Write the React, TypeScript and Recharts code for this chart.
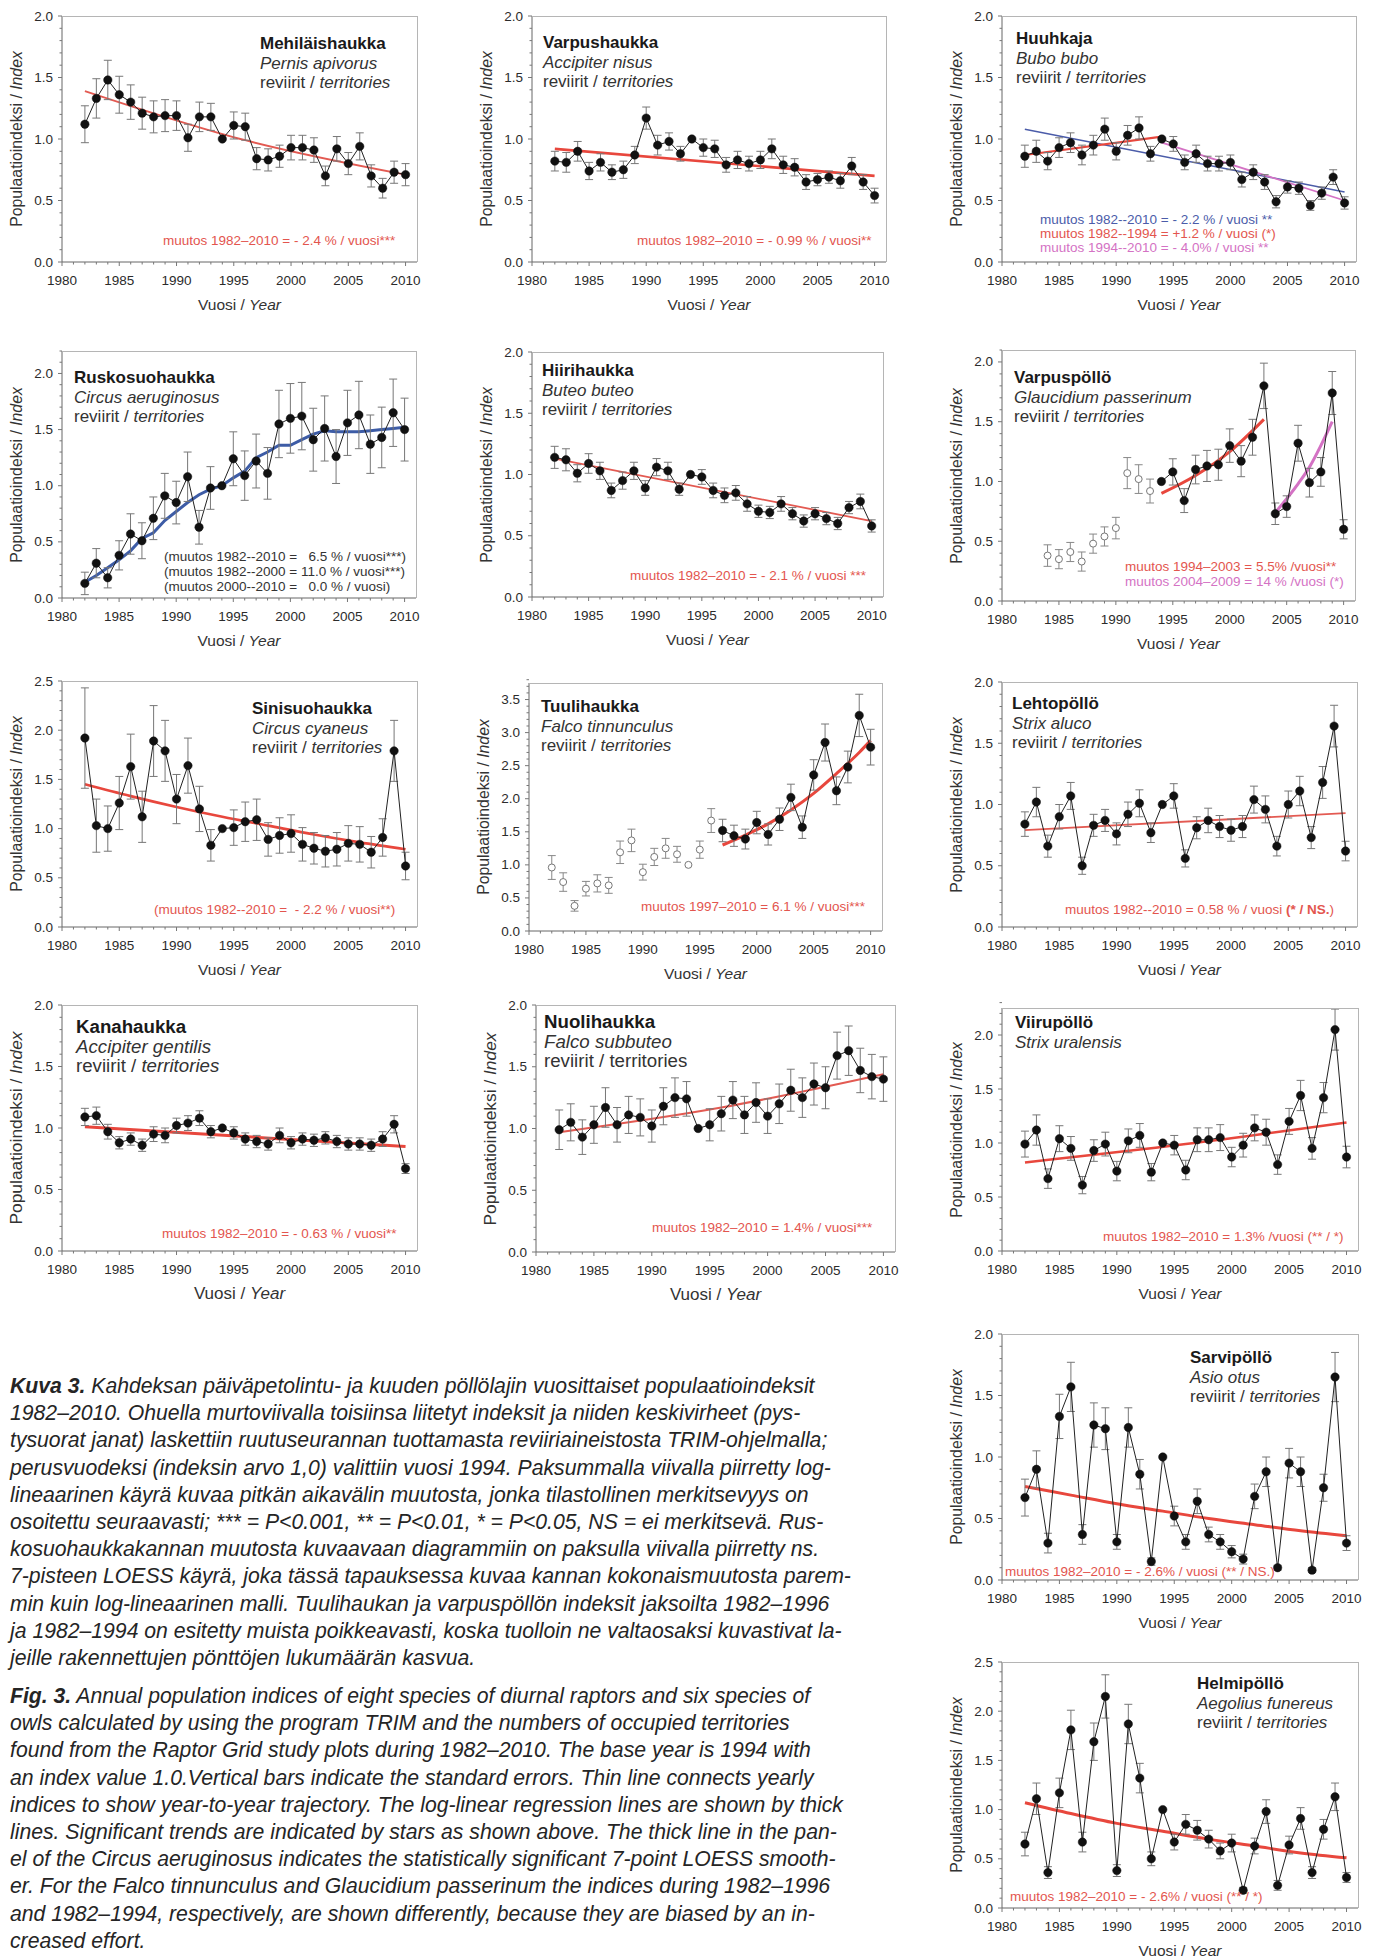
import React from 'react';
import { ComposedChart, Line, XAxis, YAxis, ErrorBar } from 'recharts';

const FONT = '"Liberation Sans", Arial, Helvetica, sans-serif';
const NARROW = '"Liberation Sans Narrow", "Arial Narrow", "Liberation Sans", sans-serif';

const RED = '#e8473d';
const RED_THIN = '#e35a52';
const RED_TEXT = '#e3554e';
const BLUE = '#4b5ca9';
const PINK = '#d472c4';
const LOESS = '#3d5ca6';

const YEARS = [1982, 1983, 1984, 1985, 1986, 1987, 1988, 1989, 1990, 1991, 1992, 1993, 1994, 1995, 1996, 1997, 1998, 1999, 2000, 2001, 2002, 2003, 2004, 2005, 2006, 2007, 2008, 2009, 2010];
const X_LABELS = [1980, 1985, 1990, 1995, 2000, 2005, 2010];
const Y_LABELS = [0, 0.5, 1, 1.5, 2, 2.5, 3, 3.5];

type Pt = [number, number];

// Mehiläishaukka
const mehiIndex = [1.12, 1.33, 1.48, 1.36, 1.30, 1.21, 1.18, 1.19, 1.19, 1.01, 1.18, 1.18, 1.00, 1.11, 1.10, 0.84, 0.83, 0.86, 0.93, 0.93, 0.91, 0.70, 0.92, 0.80, 0.94, 0.70, 0.60, 0.73, 0.71];
const mehiSE = [0.15, 0.16, 0.16, 0.15, 0.14, 0.13, 0.13, 0.13, 0.12, 0.11, 0.12, 0.11, 0, 0.11, 0.11, 0.09, 0.09, 0.09, 0.10, 0.10, 0.10, 0.08, 0.10, 0.09, 0.11, 0.09, 0.08, 0.09, 0.09];
const mehiTrend: Pt[] = [[1982, 1.39], [1996, 0.99], [2010, 0.71]];

// Varpushaukka
const varpIndex = [0.82, 0.81, 0.90, 0.74, 0.81, 0.73, 0.75, 0.87, 1.17, 0.95, 0.98, 0.88, 1.00, 0.93, 0.92, 0.79, 0.83, 0.80, 0.83, 0.92, 0.79, 0.77, 0.65, 0.67, 0.69, 0.66, 0.78, 0.65, 0.54];
const varpSE = [0.08, 0.08, 0.08, 0.07, 0.07, 0.06, 0.07, 0.07, 0.09, 0.08, 0.07, 0.06, 0, 0.07, 0.07, 0.06, 0.07, 0.06, 0.07, 0.08, 0.07, 0.07, 0.06, 0.05, 0.05, 0.06, 0.07, 0.06, 0.06];
const varpTrend: Pt[] = [[1982, 0.92], [2010, 0.70]];

// Huuhkaja
const huuhIndex = [0.86, 0.90, 0.82, 0.93, 0.97, 0.87, 0.95, 1.08, 0.90, 1.03, 1.09, 0.88, 1.00, 0.96, 0.81, 0.88, 0.80, 0.80, 0.81, 0.67, 0.73, 0.65, 0.49, 0.61, 0.60, 0.46, 0.56, 0.69, 0.48];
const huuhSE = [0.09, 0.09, 0.07, 0.08, 0.08, 0.08, 0.08, 0.09, 0.07, 0.08, 0.09, 0.06, 0, 0.06, 0.06, 0.07, 0.06, 0.06, 0.06, 0.06, 0.06, 0.06, 0.05, 0.05, 0.05, 0.04, 0.05, 0.06, 0.05];
const huuhAll: Pt[] = [[1982, 1.08], [2010, 0.57]];
const huuhEarly: Pt[] = [[1982, 0.87], [1994, 1.02]];
const huuhLate: Pt[] = [[1994, 0.97], [2010, 0.50]];

// Ruskosuohaukka
const ruskIndex = [0.13, 0.31, 0.18, 0.38, 0.57, 0.51, 0.71, 0.91, 0.85, 1.08, 0.63, 0.98, 1.00, 1.24, 1.09, 1.22, 1.11, 1.55, 1.60, 1.62, 1.41, 1.51, 1.26, 1.56, 1.63, 1.37, 1.43, 1.65, 1.50];
const ruskSE = [0.10, 0.13, 0.09, 0.13, 0.18, 0.16, 0.19, 0.20, 0.19, 0.22, 0.15, 0.19, 0, 0.24, 0.22, 0.24, 0.23, 0.30, 0.31, 0.30, 0.28, 0.29, 0.24, 0.29, 0.30, 0.26, 0.27, 0.30, 0.28];
const ruskLoess: Pt[] = [[1982, 0.14], [1983, 0.20], [1984, 0.27], [1985, 0.34], [1986, 0.42], [1987, 0.53], [1988, 0.58], [1989, 0.69], [1990, 0.77], [1991, 0.85], [1992, 0.92], [1993, 0.97], [1994, 1.00], [1995, 1.07], [1996, 1.13], [1997, 1.25], [1998, 1.30], [1999, 1.36], [2000, 1.36], [2001, 1.41], [2002, 1.46], [2003, 1.49], [2004, 1.48], [2005, 1.48], [2006, 1.48], [2007, 1.49], [2008, 1.50], [2009, 1.51], [2010, 1.52]];

// Hiirihaukka
const hiirIndex = [1.14, 1.12, 1.01, 1.09, 1.03, 0.87, 0.95, 1.03, 0.89, 1.06, 1.03, 0.88, 1.00, 0.98, 0.87, 0.83, 0.85, 0.76, 0.70, 0.69, 0.76, 0.68, 0.62, 0.68, 0.64, 0.60, 0.73, 0.78, 0.58];
const hiirSE = [0.09, 0.09, 0.07, 0.08, 0.07, 0.06, 0.07, 0.07, 0.06, 0.07, 0.07, 0.05, 0, 0.06, 0.06, 0.06, 0.06, 0.06, 0.05, 0.05, 0.06, 0.05, 0.05, 0.05, 0.05, 0.05, 0.05, 0.06, 0.05];
const hiirTrend: Pt[] = [[1982, 1.13], [2010, 0.62]];

// Varpuspöllö (1984-1993 drawn as open circles)
const vpolIndex = [null, null, 0.38, 0.35, 0.41, 0.33, 0.48, 0.54, 0.61, 1.07, 1.02, 0.92, 1.00, 1.08, 0.84, 1.10, 1.13, 1.14, 1.30, 1.17, 1.37, 1.80, 0.73, 0.79, 1.32, 0.99, 1.08, 1.74, 0.60];
const vpolSE = [null, null, 0.09, 0.08, 0.08, 0.08, 0.08, 0.08, 0.09, 0.13, 0.12, 0.10, 0, 0.11, 0.10, 0.12, 0.13, 0.13, 0.14, 0.13, 0.15, 0.19, 0.09, 0.09, 0.15, 0.12, 0.12, 0.18, 0.08];
const vpolEarly: Pt[] = [[1994, 0.90], [1997, 1.05], [2000, 1.25], [2003, 1.52]];
const vpolLate: Pt[] = [[2004, 0.74], [2006, 0.98], [2007, 1.12], [2008, 1.30], [2009, 1.50]];

// Sinisuohaukka
const siniIndex = [1.92, 1.03, 1.00, 1.26, 1.63, 1.12, 1.89, 1.79, 1.30, 1.64, 1.20, 0.83, 1.00, 1.01, 1.07, 1.09, 0.89, 0.93, 0.95, 0.84, 0.80, 0.77, 0.79, 0.85, 0.84, 0.76, 0.91, 1.79, 0.62];
const siniSE = [0.51, 0.27, 0.23, 0.27, 0.33, 0.26, 0.36, 0.31, 0.25, 0.28, 0.23, 0.16, 0, 0.18, 0.20, 0.21, 0.17, 0.18, 0.19, 0.17, 0.16, 0.16, 0.17, 0.18, 0.18, 0.16, 0.19, 0.31, 0.14];
const siniTrend: Pt[] = [[1982, 1.45], [1986, 1.33], [1990, 1.22], [1994, 1.12], [1998, 1.03], [2002, 0.94], [2006, 0.86], [2010, 0.79]];

// Tuulihaukka (1982-1996 drawn as open circles)
const tuulIndex = [0.96, 0.74, 0.38, 0.64, 0.72, 0.69, 1.19, 1.37, 0.89, 1.12, 1.25, 1.16, 1.00, 1.23, 1.67, 1.52, 1.44, 1.39, 1.64, 1.46, 1.69, 2.02, 1.57, 2.36, 2.85, 2.12, 2.48, 3.26, 2.78];
const tuulSE = [0.18, 0.14, 0.08, 0.11, 0.13, 0.12, 0.17, 0.17, 0.12, 0.13, 0.15, 0.12, 0, 0.13, 0.18, 0.17, 0.16, 0.15, 0.17, 0.16, 0.17, 0.20, 0.17, 0.23, 0.28, 0.21, 0.24, 0.32, 0.27];
const tuulTrend: Pt[] = [[1997, 1.30], [1999, 1.45], [2001, 1.62], [2003, 1.83], [2005, 2.08], [2007, 2.38], [2009, 2.70], [2010, 2.88]];

// Lehtopöllö
const lehtIndex = [0.84, 1.02, 0.66, 0.90, 1.07, 0.50, 0.83, 0.87, 0.76, 0.92, 1.01, 0.77, 1.00, 1.07, 0.56, 0.81, 0.87, 0.82, 0.79, 0.82, 1.04, 0.96, 0.66, 1.00, 1.11, 0.73, 1.18, 1.64, 0.62];
const lehtSE = [0.10, 0.12, 0.09, 0.10, 0.11, 0.07, 0.09, 0.09, 0.09, 0.10, 0.11, 0.08, 0, 0.10, 0.07, 0.09, 0.10, 0.09, 0.09, 0.09, 0.11, 0.11, 0.08, 0.11, 0.12, 0.09, 0.13, 0.17, 0.08];
const lehtTrend: Pt[] = [[1982, 0.79], [2010, 0.93]];

// Kanahaukka
const kanaIndex = [1.09, 1.10, 0.97, 0.88, 0.91, 0.86, 0.95, 0.94, 1.02, 1.04, 1.08, 0.97, 1.00, 0.96, 0.91, 0.89, 0.87, 0.94, 0.88, 0.91, 0.90, 0.92, 0.89, 0.87, 0.87, 0.86, 0.91, 1.03, 0.67];
const kanaSE = [0.07, 0.07, 0.06, 0.05, 0.05, 0.05, 0.06, 0.06, 0.06, 0.06, 0.06, 0.05, 0, 0.05, 0.05, 0.05, 0.05, 0.06, 0.05, 0.05, 0.05, 0.05, 0.05, 0.05, 0.05, 0.05, 0.06, 0.07, 0.04];
const kanaTrend: Pt[] = [[1982, 1.01], [2010, 0.85]];

// Nuolihaukka
const nuolIndex = [0.99, 1.05, 0.93, 1.03, 1.17, 1.03, 1.11, 1.09, 1.02, 1.18, 1.25, 1.24, 1.00, 1.03, 1.12, 1.23, 1.11, 1.21, 1.10, 1.20, 1.31, 1.25, 1.36, 1.33, 1.59, 1.63, 1.47, 1.42, 1.40];
const nuolSE = [0.16, 0.15, 0.14, 0.15, 0.16, 0.14, 0.15, 0.15, 0.13, 0.15, 0.16, 0.14, 0, 0.13, 0.14, 0.15, 0.15, 0.16, 0.14, 0.16, 0.17, 0.16, 0.17, 0.17, 0.19, 0.20, 0.18, 0.18, 0.18];
const nuolTrend: Pt[] = [[1982, 0.97], [1996, 1.17], [2010, 1.44]];

// Viirupöllö
const viirIndex = [0.99, 1.12, 0.67, 1.04, 0.95, 0.61, 0.93, 0.99, 0.74, 1.02, 1.07, 0.73, 1.00, 0.98, 0.75, 1.03, 1.03, 1.05, 0.87, 0.98, 1.14, 1.10, 0.80, 1.20, 1.44, 0.95, 1.42, 2.05, 0.87];
const viirSE = [0.12, 0.14, 0.09, 0.12, 0.11, 0.08, 0.10, 0.11, 0.09, 0.11, 0.11, 0.08, 0, 0.09, 0.09, 0.11, 0.11, 0.12, 0.09, 0.11, 0.12, 0.12, 0.09, 0.12, 0.14, 0.10, 0.14, 0.19, 0.10];
const viirTrend: Pt[] = [[1982, 0.82], [1996, 0.99], [2010, 1.19]];

// Sarvipöllö
const sarvIndex = [0.67, 0.90, 0.30, 1.33, 1.57, 0.37, 1.26, 1.23, 0.31, 1.24, 0.86, 0.15, 1.00, 0.52, 0.31, 0.64, 0.37, 0.31, 0.23, 0.17, 0.68, 0.88, 0.10, 0.95, 0.88, 0.08, 0.75, 1.65, 0.30];
const sarvSE = [0.15, 0.15, 0.08, 0.18, 0.20, 0.08, 0.18, 0.17, 0.06, 0.16, 0.12, 0.03, 0, 0.08, 0.06, 0.10, 0.06, 0.06, 0.05, 0.04, 0.10, 0.12, 0.02, 0.12, 0.12, 0.02, 0.11, 0.20, 0.06];
const sarvTrend: Pt[] = [[1982, 0.76], [1986, 0.69], [1990, 0.62], [1994, 0.56], [1998, 0.50], [2002, 0.45], [2006, 0.40], [2010, 0.36]];

// Helmipöllö
const helmIndex = [0.65, 1.11, 0.36, 1.17, 1.81, 0.67, 1.69, 2.15, 0.38, 1.87, 1.32, 0.50, 1.00, 0.67, 0.85, 0.79, 0.70, 0.58, 0.66, 0.18, 0.63, 0.98, 0.23, 0.64, 0.91, 0.36, 0.80, 1.13, 0.31];
const helmSE = [0.12, 0.16, 0.06, 0.15, 0.20, 0.10, 0.19, 0.22, 0.06, 0.20, 0.15, 0.07, 0, 0.08, 0.10, 0.10, 0.09, 0.08, 0.09, 0.03, 0.08, 0.12, 0.05, 0.09, 0.11, 0.06, 0.10, 0.14, 0.05];
const helmTrend: Pt[] = [[1982, 1.07], [1986, 0.96], [1990, 0.86], [1994, 0.78], [1998, 0.70], [2002, 0.63], [2006, 0.56], [2010, 0.51]];

interface Trend { pts: Pt[]; color: string; width: number; smooth?: boolean }
interface Note { text: React.ReactNode; x: number; y: number; color: string }
interface Panel {
  left: number; top: number; w: number; h: number; yMax: number;
  index: (number | null)[]; se: (number | null)[]; openUntil?: number;
  trends: Trend[];
  name: string; latin: string; terr: 'italic' | 'plain' | 'none'; tx: number; ty: number;
  notes: Note[];
  narrow?: boolean;
}

const panels: Panel[] = [
  {
    left: 62, top: 16, w: 355, h: 246, yMax: 2, index: mehiIndex, se: mehiSE,
    trends: [{ pts: mehiTrend, color: RED_THIN, width: 1.8, smooth: true }],
    name: 'Mehiläishaukka', latin: 'Pernis apivorus', terr: 'italic', tx: 260, ty: 43,
    notes: [{ text: 'muutos 1982–2010 = - 2.4 % / vuosi***', x: 163, y: 241, color: RED_TEXT }],
  },
  {
    left: 532, top: 16, w: 354, h: 246, yMax: 2, index: varpIndex, se: varpSE,
    trends: [{ pts: varpTrend, color: RED, width: 2.6 }],
    name: 'Varpushaukka', latin: 'Accipiter nisus', terr: 'italic', tx: 543, ty: 42,
    notes: [{ text: 'muutos 1982–2010 = - 0.99 % / vuosi**', x: 637, y: 241, color: RED_TEXT }],
  },
  {
    left: 1002, top: 16, w: 354, h: 246, yMax: 2, index: huuhIndex, se: huuhSE,
    trends: [
      { pts: huuhAll, color: BLUE, width: 1.5 },
      { pts: huuhEarly, color: RED, width: 2.2 },
      { pts: huuhLate, color: PINK, width: 1.8 },
    ],
    name: 'Huuhkaja', latin: 'Bubo bubo', terr: 'italic', tx: 1016, ty: 38,
    notes: [
      { text: 'muutos 1982--2010 = - 2.2 % / vuosi **', x: 1040, y: 220, color: BLUE },
      { text: 'muutos 1982--1994 = +1.2 % / vuosi (*)', x: 1040, y: 234, color: RED_TEXT },
      { text: 'muutos 1994--2010 = - 4.0% / vuosi **', x: 1040, y: 248, color: PINK },
    ],
  },
  {
    left: 62, top: 351, w: 354, h: 247, yMax: 2.2, index: ruskIndex, se: ruskSE,
    trends: [{ pts: ruskLoess, color: LOESS, width: 3 }],
    name: 'Ruskosuohaukka', latin: 'Circus aeruginosus', terr: 'italic', tx: 74, ty: 377,
    notes: [
      { text: '(muutos 1982--2010 =   6.5 % / vuosi***)', x: 164, y: 557, color: '#333' },
      { text: '(muutos 1982--2000 = 11.0 % / vuosi***)', x: 164, y: 572, color: '#333' },
      { text: '(muutos 2000--2010 =   0.0 % / vuosi)', x: 164, y: 587, color: '#333' },
    ],
  },
  {
    left: 532, top: 352, w: 351, h: 245, yMax: 2, index: hiirIndex, se: hiirSE,
    trends: [{ pts: hiirTrend, color: RED_THIN, width: 1.8 }],
    name: 'Hiirihaukka', latin: 'Buteo buteo', terr: 'italic', tx: 542, ty: 370,
    notes: [{ text: 'muutos 1982–2010 = - 2.1 % / vuosi ***', x: 630, y: 576, color: RED_TEXT }],
  },
  {
    left: 1002, top: 350, w: 353, h: 251, yMax: 2.1, index: vpolIndex, se: vpolSE, openUntil: 1993,
    trends: [
      { pts: vpolEarly, color: RED, width: 3, smooth: true },
      { pts: vpolLate, color: PINK, width: 3, smooth: true },
    ],
    name: 'Varpuspöllö', latin: 'Glaucidium passerinum', terr: 'italic', tx: 1014, ty: 377,
    notes: [
      { text: 'muutos 1994–2003 = 5.5% /vuosi**', x: 1125, y: 567, color: RED_TEXT },
      { text: 'muutos 2004–2009 = 14 % /vuosi (*)', x: 1125, y: 582, color: PINK },
    ],
  },
  {
    left: 62, top: 681, w: 355, h: 246, yMax: 2.5, index: siniIndex, se: siniSE,
    trends: [{ pts: siniTrend, color: RED, width: 2.6, smooth: true }],
    name: 'Sinisuohaukka', latin: 'Circus cyaneus', terr: 'italic', tx: 252, ty: 708,
    notes: [{ text: '(muutos 1982--2010 =  - 2.2 % / vuosi**)', x: 154, y: 910, color: RED_TEXT }],
  },
  {
    left: 529, top: 683, w: 353, h: 248, yMax: 3.75, index: tuulIndex, se: tuulSE, openUntil: 1996,
    trends: [{ pts: tuulTrend, color: RED, width: 3, smooth: true }],
    name: 'Tuulihaukka', latin: 'Falco tinnunculus', terr: 'italic', tx: 541, ty: 706,
    notes: [{ text: 'muutos 1997–2010 = 6.1 % / vuosi***', x: 641, y: 907, color: RED_TEXT }],
  },
  {
    left: 1002, top: 682, w: 355, h: 245, yMax: 2, index: lehtIndex, se: lehtSE,
    trends: [{ pts: lehtTrend, color: RED_THIN, width: 1.8 }],
    name: 'Lehtopöllö', latin: 'Strix aluco', terr: 'italic', tx: 1012, ty: 703,
    notes: [{ text: <>muutos 1982--2010 = 0.58 % / vuosi <b>(* / NS.</b>)</>, x: 1065, y: 910, color: RED_TEXT }],
  },
  {
    left: 62, top: 1005, w: 355, h: 246, yMax: 2, index: kanaIndex, se: kanaSE, narrow: true,
    trends: [{ pts: kanaTrend, color: RED, width: 3 }],
    name: 'Kanahaukka', latin: 'Accipiter gentilis', terr: 'italic', tx: 76, ty: 1027,
    notes: [{ text: 'muutos 1982–2010 = - 0.63 % / vuosi**', x: 162, y: 1234, color: RED_TEXT }],
  },
  {
    left: 536, top: 1005, w: 359, h: 247, yMax: 2, index: nuolIndex, se: nuolSE, narrow: true,
    trends: [{ pts: nuolTrend, color: RED_THIN, width: 2, smooth: true }],
    name: 'Nuolihaukka', latin: 'Falco subbuteo', terr: 'plain', tx: 544, ty: 1022,
    notes: [{ text: 'muutos 1982–2010 = 1.4% / vuosi***', x: 652, y: 1228, color: RED_TEXT }],
  },
  {
    left: 1002, top: 1008, w: 356, h: 243, yMax: 2.25, index: viirIndex, se: viirSE,
    trends: [{ pts: viirTrend, color: RED, width: 2.6, smooth: true }],
    name: 'Viirupöllö', latin: 'Strix uralensis', terr: 'none', tx: 1015, ty: 1022,
    notes: [{ text: 'muutos 1982–2010 = 1.3% /vuosi (** / *)', x: 1103, y: 1237, color: RED_TEXT }],
  },
  {
    left: 1002, top: 1334, w: 356, h: 246, yMax: 2, index: sarvIndex, se: sarvSE,
    trends: [{ pts: sarvTrend, color: RED, width: 3, smooth: true }],
    name: 'Sarvipöllö', latin: 'Asio otus', terr: 'italic', tx: 1190, ty: 1357,
    notes: [{ text: 'muutos 1982–2010 = - 2.6% / vuosi (** / NS.)', x: 1005, y: 1572, color: RED_TEXT }],
  },
  {
    left: 1002, top: 1662, w: 356, h: 246, yMax: 2.5, index: helmIndex, se: helmSE,
    trends: [{ pts: helmTrend, color: RED, width: 3, smooth: true }],
    name: 'Helmipöllö', latin: 'Aegolius funereus', terr: 'italic', tx: 1197, ty: 1683,
    notes: [{ text: 'muutos 1982–2010 = - 2.6% / vuosi (** / *)', x: 1010, y: 1897, color: RED_TEXT }],
  },
];

const captionFi: React.ReactNode[] = [
  <><b>Kuva 3.</b> Kahdeksan päiväpetolintu- ja kuuden pöllölajin vuosittaiset populaatioindeksit</>,
  '1982–2010. Ohuella murtoviivalla toisiinsa liitetyt indeksit ja niiden keskivirheet (pys-',
  'tysuorat janat) laskettiin ruutuseurannan tuottamasta reviiriaineistosta TRIM-ohjelmalla;',
  'perusvuodeksi (indeksin arvo 1,0) valittiin vuosi 1994. Paksummalla viivalla piirretty log-',
  'lineaarinen käyrä kuvaa pitkän aikavälin muutosta, jonka tilastollinen merkitsevyys on',
  'osoitettu seuraavasti; *** = P<0.001, ** = P<0.01, * = P<0.05, NS = ei merkitsevä. Rus-',
  'kosuohaukkakannan muutosta kuvaavaan diagrammiin on paksulla viivalla piirretty ns.',
  '7-pisteen LOESS käyrä, joka tässä tapauksessa kuvaa kannan kokonaismuutosta parem-',
  'min kuin log-lineaarinen malli. Tuulihaukan ja varpuspöllön indeksit jaksoilta 1982–1996',
  'ja 1982–1994 on esitetty muista poikkeavasti, koska tuolloin ne valtaosaksi kuvastivat la-',
  'jeille rakennettujen pönttöjen lukumäärän kasvua.',
];

const captionEn: React.ReactNode[] = [
  <><b>Fig. 3.</b> Annual population indices of eight species of diurnal raptors and six species of</>,
  'owls calculated by using the program TRIM and the numbers of occupied territories',
  'found from the Raptor Grid study plots during 1982–2010. The base year is 1994 with',
  'an index value 1.0.Vertical bars indicate the standard errors. Thin line connects yearly',
  'indices to show year-to-year trajectory. The log-linear regression lines are shown by thick',
  'lines. Significant trends are indicated by stars as shown above. The thick line in the pan-',
  'el of the Circus aeruginosus indicates the statistically significant 7-point LOESS smooth-',
  'er. For the Falco tinnunculus and Glaucidium passerinum the indices during 1982–1996',
  'and 1982–1994, respectively, are shown differently, because they are biased by an in-',
  'creased effort.',
];

const X_TICKS = Array.from({ length: 31 }, (_, i) => 1980 + i);

function XTick(props: any) {
  const { x, y, payload, font } = props;
  const v = payload.value as number;
  const major = X_LABELS.includes(v);
  return (
    <g>
      <line x1={x} y1={y} x2={x} y2={y + (major ? 4 : 2.5)} stroke="#777" strokeWidth={1} />
      {major && (
        <text x={x} y={y + 18} textAnchor="middle" dominantBaseline="central" fontSize={13.5} fontFamily={font} fill="#2b2b2b">
          {v}
        </text>
      )}
    </g>
  );
}

function YTick(props: any) {
  const { x, y, payload, font } = props;
  const v = Math.round(payload.value * 10) / 10;
  const major = Y_LABELS.includes(v);
  return (
    <g>
      <line x1={x} y1={y} x2={x - (major ? 4 : 2.5)} y2={y} stroke="#777" strokeWidth={1} />
      {major && (
        <text x={x - 9} y={y} textAnchor="end" dominantBaseline="central" fontSize={13.5} fontFamily={font} fill="#2b2b2b">
          {v.toFixed(1)}
        </text>
      )}
    </g>
  );
}

function buildRows(p: Panel) {
  return YEARS.map((year, i) => {
    const val = p.index[i];
    const se = p.se[i];
    const filled = p.openUntil == null || year > p.openUntil;
    const row: Record<string, number | null> = {
      year,
      v: filled ? val : null,
      e: filled ? se : null,
      o: filled ? null : val,
      oe: filled ? null : se,
    };
    p.trends.forEach((t, k) => {
      const hit = t.pts.find(pt => pt[0] === year);
      row['t' + k] = hit ? hit[1] : null;
    });
    return row;
  });
}

const abs = (left: number, top: number): React.CSSProperties => ({ position: 'absolute', left, top });

function PanelChart({ p }: { p: Panel }) {
  const rows = buildRows(p);
  const yTicks = Array.from({ length: Math.round(p.yMax * 10) + 1 }, (_, i) => i / 10);
  const font = p.narrow ? NARROW : FONT;
  const k = p.narrow ? 1.1 : 1;
  const padL = 70, padT = 10, padR = 10, padB = 40;
  const lineGap = 19.7;
  const textBase: React.CSSProperties = { position: 'absolute', whiteSpace: 'pre', lineHeight: 1, fontFamily: font, transform: 'translateY(-50%)' };

  return (
    <>
      <div style={abs(p.left - padL, p.top - padT)}>
        <ComposedChart width={padL + p.w + padR} height={padT + p.h + padB} data={rows}
          margin={{ top: padT, right: padR, bottom: 0, left: 0 }}>
          <XAxis dataKey="year" type="number" domain={[1980, 2011]} ticks={X_TICKS} interval={0}
            allowDataOverflow height={padB} tickSize={0} tickMargin={0} tickLine={false}
            axisLine={{ stroke: '#666' }} tick={(tp: any) => <XTick {...tp} font={font} />} />
          <YAxis type="number" domain={[0, p.yMax]} ticks={yTicks} interval={0}
            allowDataOverflow width={padL} tickSize={0} tickMargin={0} tickLine={false}
            axisLine={{ stroke: '#666' }} tick={(tp: any) => <YTick {...tp} font={font} />} />
          {p.trends.map((t, i) => (
            <Line key={'t' + i} dataKey={'t' + i} type={t.smooth ? 'monotone' : 'linear'} stroke={t.color}
              strokeWidth={t.width} dot={false} activeDot={false} connectNulls isAnimationActive={false} />
          ))}
          {p.openUntil != null && (
            <Line dataKey="o" stroke="none" dot={{ r: 3.5, fill: '#fff', stroke: '#777', strokeWidth: 1 }}
              activeDot={false} isAnimationActive={false}>
              <ErrorBar dataKey="oe" width={4} stroke="#888" strokeWidth={1} direction="y" />
            </Line>
          )}
          <Line dataKey="v" type="linear" stroke="#222" strokeWidth={1}
            dot={{ r: 4.2, fill: '#111', stroke: '#111', strokeWidth: 0.5 }}
            activeDot={false} isAnimationActive={false}>
            <ErrorBar dataKey="e" width={4} stroke="#777" strokeWidth={1} direction="y" />
          </Line>
        </ComposedChart>
      </div>

      {/* light frame on top and right */}
      <div style={{ ...abs(p.left, p.top), width: p.w + 1, height: p.h, boxSizing: 'border-box', borderTop: '1px solid #b5b5b5', borderRight: '1px solid #b5b5b5', pointerEvents: 'none' }} />

      {/* axis titles */}
      <div style={{ position: 'absolute', left: p.left - 45, top: p.top + p.h / 2, transform: 'translate(-50%, -50%) rotate(-90deg)', whiteSpace: 'nowrap', fontFamily: font, fontSize: 15.8 * k, color: '#333', lineHeight: 1 }}>
        Populaatioindeksi / <i>Index</i>
      </div>
      <div style={{ position: 'absolute', left: p.left + p.w / 2, top: p.top + p.h + 43, transform: 'translate(-50%, -50%)', whiteSpace: 'nowrap', fontFamily: font, fontSize: 15.5 * k, color: '#333', lineHeight: 1 }}>
        Vuosi / <i>Year</i>
      </div>

      {/* species block */}
      <div style={{ ...textBase, left: p.tx, top: p.ty, fontSize: 17 * k, fontWeight: 700, color: '#1a1a1a' }}>{p.name}</div>
      <div style={{ ...textBase, left: p.tx, top: p.ty + lineGap, fontSize: 17 * k, fontStyle: 'italic', color: '#333' }}>{p.latin}</div>
      {p.terr !== 'none' && (
        <div style={{ ...textBase, left: p.tx, top: p.ty + 2 * lineGap, fontSize: 17 * k, color: '#333' }}>
          reviirit / {p.terr === 'italic' ? <i>territories</i> : 'territories'}
        </div>
      )}

      {p.notes.map((n, i) => (
        <div key={i} style={{ ...textBase, left: n.x, top: n.y, fontSize: 13.5, color: n.color }}>{n.text}</div>
      ))}
    </>
  );
}

function Caption({ lines, top }: { lines: React.ReactNode[]; top: number }) {
  return (
    <div style={{ position: 'absolute', left: 10, top, fontFamily: FONT, fontStyle: 'italic', fontSize: 21.2, color: '#252525' }}>
      {lines.map((l, i) => (
        <div key={i} style={{ height: 27.2, lineHeight: '27.2px', whiteSpace: 'nowrap' }}>{l}</div>
      ))}
    </div>
  );
}

export default function App() {
  return (
    <div style={{ position: 'absolute', left: 0, top: 0, width: 1375, height: 1959, background: '#fff', overflow: 'hidden', fontFamily: FONT }}>
      {panels.map((p, i) => <PanelChart key={i} p={p} />)}
      <Caption lines={captionFi} top={1372} />
      <Caption lines={captionEn} top={1682} />
    </div>
  );
}
